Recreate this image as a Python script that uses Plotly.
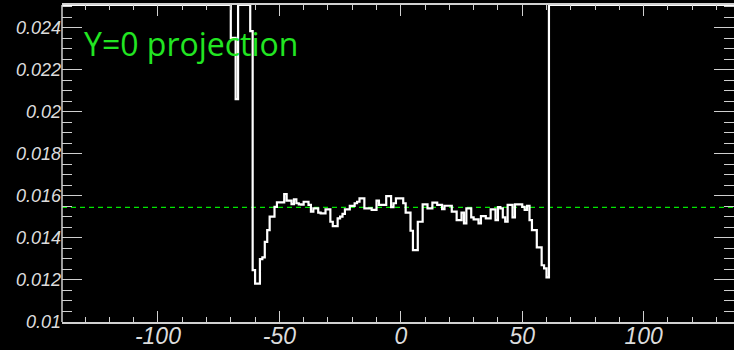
import numpy as np
import plotly.graph_objects as go

# Axis extents of the frame
X_RANGE = [-139.5, 137.2]
Y_RANGE = [0.01, 0.02508]

# Histogram: 1-unit bins starting at BIN_LO; OVER marks content above the displayed range
BIN_LO = -70
BIN_W = 1
OVER = 0.03
X_FLANK = [-140, 140]          # bins outside the listed ones are all above range

values = [
    # -70 .. -62
    0.02352, 0.02352, 0.02060, OVER, OVER, OVER, OVER, OVER, 0.02384,
    # -61 .. -52
    0.01247, 0.01183, 0.01183, 0.01299, 0.01307, 0.01381, 0.01437, 0.01501, 0.01501, 0.01548,
    # -51 .. -42
    0.01569, 0.01569, 0.01569, 0.01609, 0.01577, 0.01577, 0.01561, 0.01584, 0.01565, 0.01560,
    # -41 .. -32
    0.01558, 0.01572, 0.01572, 0.01557, 0.01525, 0.01541, 0.01541, 0.01520, 0.01517, 0.01517,
    # -31 .. -22
    0.01536, 0.01536, 0.01477, 0.01456, 0.01456, 0.01493, 0.01501, 0.01514, 0.01536, 0.01536,
    # -21 .. -12
    0.01552, 0.01552, 0.01565, 0.01572, 0.01588, 0.01588, 0.01541, 0.01541, 0.01541, 0.01533,
    # -11 .. -2
    0.01533, 0.01577, 0.01557, 0.01557, 0.01557, 0.01599, 0.01599, 0.01546, 0.01565, 0.01588,
    # -1 .. 8
    0.01588, 0.01588, 0.01565, 0.01520, 0.01520, 0.01434, 0.01342, 0.01342, 0.01477, 0.01477,
    # 9 .. 18
    0.01560, 0.01560, 0.01541, 0.01541, 0.01568, 0.01568, 0.01557, 0.01557, 0.01537, 0.01553,
    # 19 .. 28
    0.01553, 0.01553, 0.01525, 0.01525, 0.01485, 0.01485, 0.01520, 0.01469, 0.01541, 0.01541,
    # 29 .. 38
    0.01498, 0.01488, 0.01488, 0.01469, 0.01504, 0.01504, 0.01493, 0.01493, 0.01536, 0.01536,
    # 39 .. 48
    0.01485, 0.01546, 0.01541, 0.01498, 0.01477, 0.01557, 0.01557, 0.01498, 0.01560, 0.01560,
    # 49 .. 60
    0.01560, 0.01548, 0.01533, 0.01553, 0.01485, 0.01437, 0.01437, 0.01355, 0.01355, 0.01270,
    0.01255, 0.01212,
]

MEAN_LEVEL = 0.01545

x_tick_vals = [-100, -50, 0, 50, 100]
x_tick_text = ["-100", "-50", "0", "50", "100"]
y_tick_vals = [0.01, 0.012, 0.014, 0.016, 0.018, 0.02, 0.022, 0.024]
y_tick_text = ["0.01", "0.012", "0.014", "0.016", "0.018", "0.02", "0.022", "0.024"]

TITLE = "Y=0 projection"

# Build the step outline (flank, bins, flank); content beyond the top is drawn on the frame
vals = np.asarray(values, dtype=float)
edges = BIN_LO + BIN_W * np.arange(len(vals) + 1)
xs = np.concatenate([[X_FLANK[0]], edges, [X_FLANK[1]]])
ys = np.concatenate([[OVER], vals, [OVER, OVER]])
ys_drawn = np.minimum(ys, Y_RANGE[1])

W, H = 734, 350
M_L, M_R, M_T, M_B = 62, 0, 5, 28

fig = go.Figure()

# mean level, dashed green across the frame
fig.add_trace(go.Scatter(
    x=list(X_RANGE), y=[MEAN_LEVEL, MEAN_LEVEL], mode="lines",
    line=dict(color="#00e600", width=1.3, dash="5px,4px"),
    hoverinfo="skip", showlegend=False,
))

fig.add_trace(go.Scatter(
    x=xs, y=ys_drawn, mode="lines", line_shape="hv",
    line=dict(color="white", width=2.2), hoverinfo="skip", showlegend=False,
))

frame_col = "#d0d0d0"
label_col = "#dcdcdc"

# left edge of the frame (the right edge lies just outside the canvas)
fig.add_shape(type="line", xref="paper", yref="paper", x0=0, x1=0, y0=0, y1=1,
              line=dict(color=frame_col, width=1.5))

fig.update_xaxes(
    range=X_RANGE, showgrid=False, zeroline=False,
    showline=True, linecolor=frame_col, linewidth=1.5, mirror="ticks",
    ticks="inside", ticklen=11, tickwidth=1, tickcolor=frame_col,
    tickvals=x_tick_vals, ticktext=x_tick_text, ticklabelstandoff=-7,
    minor=dict(ticks="inside", dtick=10, tick0=0, ticklen=5, tickcolor=frame_col, tickwidth=1),
    tickfont=dict(family="Liberation Sans", size=23, color=label_col, style="italic"),
)
fig.update_yaxes(
    range=Y_RANGE, showgrid=False, zeroline=False,
    showline=False, mirror="ticks",
    ticks="inside", ticklen=20, tickwidth=1, tickcolor=frame_col,
    tickvals=y_tick_vals, ticktext=y_tick_text,
    minor=dict(ticks="inside", dtick=0.0005, tick0=0.01, ticklen=10, tickcolor=frame_col, tickwidth=1),
    tickfont=dict(family="Liberation Sans", size=18, color=label_col, style="italic"),
)

fig.add_annotation(
    text=TITLE, xref="paper", yref="paper",
    x=(82 - M_L) / (W - M_L - M_R), y=1 - (43 - M_T) / (H - M_T - M_B),
    xanchor="left", yanchor="middle", showarrow=False,
    font=dict(family="Open Sans", size=32, color="#22e622"),
)

fig.update_layout(
    width=W, height=H,
    margin=dict(l=M_L, r=M_R, t=M_T, b=M_B, pad=0),
    paper_bgcolor="black", plot_bgcolor="black",
)

fig.write_html("out.html")
